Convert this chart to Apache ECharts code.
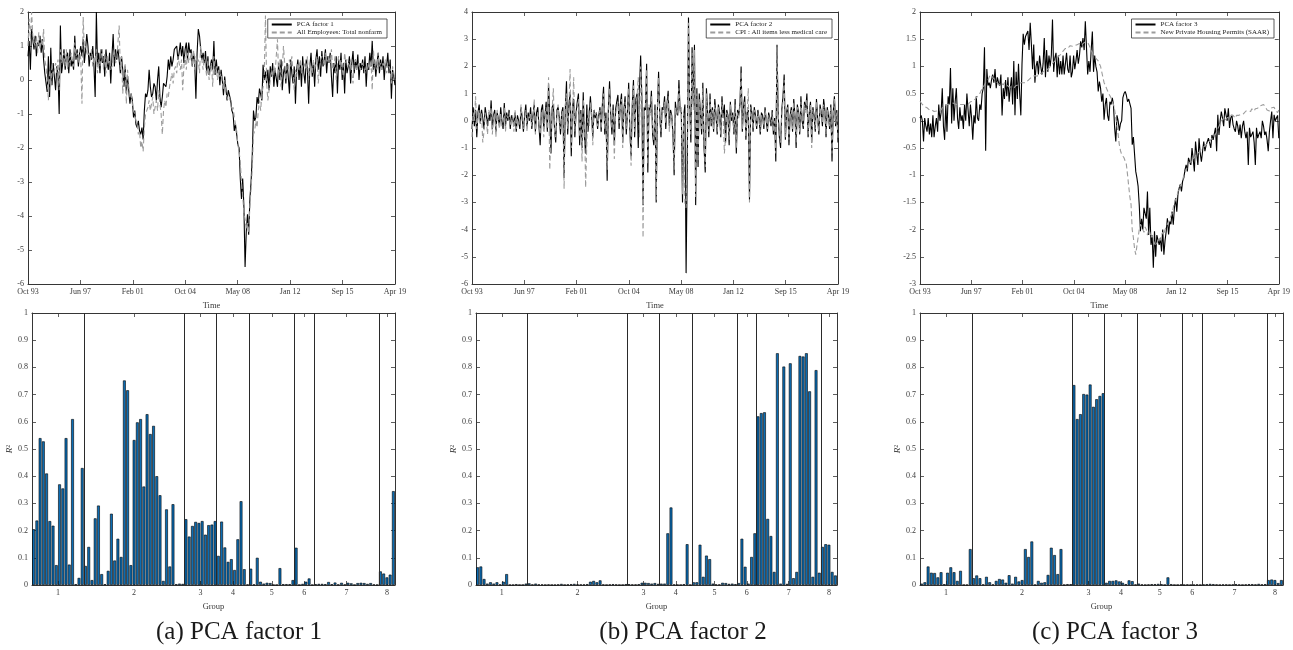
<!DOCTYPE html>
<html>
<head>
<meta charset="utf-8">
<title>PCA factors and R-squared by group</title>
<script src="https://cdn.jsdelivr.net/npm/echarts@6/dist/echarts.min.js"></script>
<style>
  html, body { margin: 0; padding: 0; background: #ffffff; }
  #chart { width: 1293px; height: 650px; }
</style>
</head>
<body>
<div id="chart"></div>
<script>
// ---------------------------------------------------------------------------
// Data: monthly standardized series, Oct 1993 .. Apr 2019 (307 months).
// Each line below is one calendar year (first line: Oct-Dec 1993).
// ---------------------------------------------------------------------------
const timeTickLabels = ['Oct 93', 'Jun 97', 'Feb 01', 'Oct 04', 'May 08', 'Jan 12', 'Sep 15', 'Apr 19'];

const factor1 = [
  0.7, 1.15, 0.3,
  1.5, 1.2, 0.9, 1.3, 0.7, 1.1, 1.0, 1.3, 0.8, 1.2, 0.6, 0.2,
  0.15, -0.35, 0.7, -0.5, 0.95, -0.15, 0.5, 0.1, -0.3, 0.4, 0.2, -1.0,
  1.6, 0.2, 0.5, 0.9, 0.3, 0.7, 0.8, 0.2, 0.9, 0.4, 0.6, 0.3,
  1.3, 0.6, 0.9, 0.4, 0.8, 1.0, 0.7, 1.2, 0.5, 0.9, 1.35, 1.0,
  0.4, 0.8, 0.6, 1.0, 0.4, -0.5, 2.0, 0.4, 0.8, 0.2, 0.9, 0.5,
  0.7, 0.1, 0.9, 0.5, 0.3, 0.8, -0.1, 0.7, 1.35, 0.4, 0.9, 0.6,
  0.9, 0.6, 0.2, 0.7, 0.3, -0.2, 0.4, -0.4, 0.1, -0.3, -0.7, -0.4,
  -0.6, -1.1, -0.9, -1.3, -1.4, -1.2, -1.5, -1.6, -1.4, -1.75, -0.9, -0.4,
  -0.5, -0.3, 0.3, -0.2, -0.5, -0.4, -0.1, -0.2, -0.6, 0.0, 0.4, -0.5,
  -0.8, -0.5, -0.1, -0.1, -0.2, 0.1, 0.6, 0.3, 0.7, 0.4, 0.6, 0.9,
  0.9, 1.0, 0.6, 0.8, 1.1, 0.7, 1.0, 0.5, 0.9, 1.1, 0.6, 1.1,
  0.8, 0.9, 0.4, 0.8, 0.5, -0.55, 0.8, 1.5, 1.3, 0.9, 0.6, 0.8,
  0.5, 0.85, 0.2, 0.7, 0.15, 0.4, 0.6, 0.3, 1.15, 0.15, 0.6, 0.2,
  0.4, -0.15, 0.3, 0.0, -0.45, 0.1, -0.25, -0.6, -0.3, -0.45, -0.6, -0.9,
  -1.0, -1.5, -1.3, -1.6, -1.9, -2.0, -2.9, -3.5, -2.9, -3.7, -5.5, -4.45,
  -3.95, -4.55, -3.5, -3.0, -2.2, -0.9, -1.2, -1.1, -0.5, -0.7, -0.25, -0.3,
  -0.6, 0.45, 0.0, 0.25, -0.1, 0.3, -0.3, 0.4, 0.1, 0.5, -0.2, 0.3,
  0.3, -0.2, 0.5, 0.0, 0.6, -0.3, 0.2, 0.4, -0.1, 0.5, 0.1, -0.4,
  0.6, 0.2, -0.1, 0.4, -0.7, 0.3, 0.6, 0.0, 0.5, -0.2, 0.7, 0.2,
  -0.1, 0.6, 0.3, -0.7, 0.4, 0.8, 0.1, 0.5, -0.2, 0.6, 0.9, 0.3,
  0.7, 0.1, 0.85, 0.4, 0.6, 0.9, 0.2, 0.7, 0.5, 0.8, 0.1, -0.5,
  0.5, 0.2, 0.7, -0.4, 0.6, 0.3, 0.8, 0.0, 0.5, -0.4, 0.6, 0.2,
  0.4, 0.7, -0.1, 0.5, 0.85, 0.2, 0.6, 0.3, 0.75, 0.0, 0.5, 0.3,
  0.6, 0.2, 0.7, -0.2, 0.5, 0.3, 0.8, 0.4, 1.15, 0.3, 0.6, 0.1,
  0.5, 0.8, 0.2, 0.6, 0.3, 0.7, 0.0, 0.5, 0.4, 0.8, 0.2, 0.6,
  -0.55, 0.3, 0.1, -0.15
];

const totalNonfarm = [
  1.0, 1.8, 1.2,
  2.0, 1.3, 1.1, 1.0, 1.3, 0.8, 1.4, 0.9, 1.2, 1.0, 1.5, 0.6,
  0.4, 0.0, -0.6, 0.3, -0.2, 0.5, 0.1, 0.3, 0.5, 0.2, 0.6, -0.3,
  0.9, 0.5, 0.6, 0.8, 0.4, 0.9, 0.3, 0.7, 0.5, 0.8, 0.6, 0.4,
  1.1, 0.7, 0.8, 0.5, 0.9, 0.6, -0.7, 1.85, 0.9, 1.0, 0.8, 0.7,
  0.8, 0.6, 0.9, 0.4, 0.7, 0.5, 0.9, 0.2, 0.6, 0.4, 0.7, 0.9,
  0.3, 0.8, 0.2, 0.7, 0.5, 0.6, 0.3, 0.4, 0.7, 0.9, 0.5, 0.6,
  1.1, 1.6, 0.3, 0.7, -0.4, 0.2, 0.5, -0.7, 0.3, -0.2, -0.5, -0.4,
  -0.7, -0.9, -1.0, -1.2, -1.3, -1.6, -1.5, -2.0, -1.8, -2.1, -1.4, -1.0,
  -1.0, -0.8, -0.6, -0.9, -0.7, -0.5, -1.0, -0.8, -0.6, -0.9, -0.3, -0.7,
  -1.0, -1.6, -0.9, -0.6, -0.8, -0.4, -0.5, -0.2, 0.0, 0.2, -0.1, 0.3,
  0.4, 0.2, 0.7, 0.5, 0.3, 0.6, -0.3, 0.4, 0.7, 0.3, 0.8, 0.5,
  0.6, 0.8, 0.4, 0.9, 0.3, 0.7, 0.5, 0.6, 0.2, 1.0, 0.6, 0.3,
  0.7, 0.4, 0.1, 0.6, 0.0, 0.3, 0.5, -0.2, 0.7, 0.2, 0.4, 0.0,
  0.3, 0.1, 0.2, -0.1, -0.3, 0.0, -0.4, -0.5, -0.6, -0.5, -0.7, -0.9,
  -0.8, -1.1, -1.3, -1.5, -1.9, -2.1, -2.4, -3.0, -3.4, -3.9, -4.1, -4.4,
  -4.2, -4.5, -3.7, -3.2, -2.6, -1.6, -1.5, -1.2, -1.4, -0.9, -0.6, -0.9,
  -0.4, -0.2, 0.2, 1.9, -0.1, -0.6, -0.3, 0.0, 0.3, 0.1, 0.4, 0.2,
  0.2, 1.2, 0.1, 0.6, -0.2, 0.3, 1.0, 0.5, 0.0, 0.4, 0.3, 0.6,
  0.4, 0.7, 0.2, -0.3, 0.3, 0.1, 0.5, 0.3, 0.6, 0.2, 0.4, 0.5,
  0.5, 0.3, 0.7, 0.0, 0.5, 0.4, 0.2, 0.6, 0.3, 0.5, 0.7, -0.1,
  0.3, 0.6, 0.7, 0.6, 0.4, 0.8, 0.6, 0.5, 0.7, 0.5, 0.9, 0.3,
  0.4, 0.7, 0.0, 0.5, 0.7, 0.4, 0.6, 0.3, 0.1, 0.8, 0.5, 0.6,
  0.5, 0.4, 0.6, 0.2, -0.1, 0.5, 0.6, 0.3, 0.4, 0.5, 0.3, 0.4,
  0.5, 0.4, 0.2, 0.4, 0.3, 0.5, 0.3, 0.6, -0.3, 0.9, 0.4, 0.5,
  0.3, 0.8, 0.4, 0.5, 0.3, 0.5, 0.4, 0.6, 0.2, 0.5, 0.4, 0.3,
  -0.1, 0.4, 0.2, 0.0
];

const factor2 = [
  -0.3, 0.5, -0.2,
  0.4, -0.6, 0.3, 0.6, -0.1, 0.4, 0.1, -0.3, 0.5, 0.2, -0.2, 0.3,
  0.0, 0.75, -0.3, 0.2, 0.4, -0.4, 0.3, 0.1, -0.2, 0.5, 0.0, -0.3,
  0.65, -0.2, 0.3, 0.0, 0.4, -0.3, 0.2, 0.1, -0.2, 0.3, -0.4, 0.2,
  0.0, -0.3, 0.5, 0.1, -0.4, 0.2, 0.6, -0.2, 0.3, 0.0, 0.5, -0.3,
  0.2, 0.6, -0.4, 0.3, 0.5, -0.2, -0.9, 0.4, 0.6, -0.3, 0.2, 0.7,
  -0.4, 1.35, 0.2, -1.2, 0.5, 0.6, -0.3, -0.8, 0.4, 0.5, 0.1, -0.5,
  0.3, 0.5, -2.1, 0.4, 1.45, -0.5, 0.6, 1.0, -1.3, 0.5, 0.8, -0.6,
  0.3, 0.7, 1.0, -0.9, 0.4, -1.0, 1.05, -0.6, -1.2, 0.6, -0.4, 0.3,
  0.9, 0.2, -0.6, 0.4, 0.1, 0.3, -0.3, 0.2, 0.5, -0.4, 0.6, 1.25,
  -0.5, 0.3, -2.2, 0.4, 1.45, 0.2, -0.5, 0.6, -0.9, 0.4, 0.7, 0.95,
  -0.3, 0.6, 1.0, -0.8, 0.4, 0.9, -0.5, 0.3, 1.4, -0.4, -1.3, 0.6,
  1.5, -0.6, 0.8, 1.0, -1.0, 1.2, 2.4, 0.9, -3.1, 0.5, 0.4, 2.1,
  -1.9, 0.5, 0.3, 1.1, -0.5, -0.9, 0.6, -3.0, 0.4, 1.8, 0.2, -0.6,
  0.5, 0.4, 0.9, -0.3, 0.6, 1.1, -0.2, 0.4, 0.2, -0.5, -2.0, 0.7,
  0.3, 0.2, 1.5, 0.4, 0.3, -3.0, 0.2, 0.6, -5.6, -1.5, 3.8, 0.5,
  -0.8, 2.7, 0.6, 2.8, -3.1, 1.2, -1.7, 1.0, 0.3, -0.5, 1.4, -1.0,
  -1.9, 1.2, 0.3, -0.6, 1.0, -0.2, 0.5, -0.4, 0.8, 0.2, -0.5, 0.6,
  0.3, -0.6, 0.9, 0.1, 0.6, -0.8, 0.4, 0.2, -0.9, 0.7, 0.0, 0.3,
  -0.5, 0.8, -1.2, 0.4, 0.2, 0.6, 2.0, -0.4, 0.5, 0.9, -0.7, 0.3,
  0.4, -2.9, 0.6, 0.3, -0.4, 0.5, 0.2, -0.3, 0.4, 0.1, -0.5, 0.3,
  0.2, -0.3, 0.5, 0.0, -0.4, 0.3, 0.1, -0.2, 0.4, -0.5, 0.1, -1.5,
  2.8, 0.2, -0.6, -1.0, 0.4, 0.9, 1.7, -0.7, 0.3, 0.6, -0.9, 0.2,
  0.5, -0.4, 0.8, 0.2, -1.0, 0.6, 0.3, -0.5, 0.9, 0.0, -0.3, 0.7,
  0.4, 1.0, -0.6, 0.3, 0.7, -0.8, 0.5, 0.2, -0.4, 0.8, 0.1, -0.5,
  0.6, 0.3, -0.2, 0.8, 0.4, -0.6, 0.5, 0.2, -0.3, 0.6, -1.5, 0.3,
  0.9, -0.2, 0.4, -0.8
];

const cpiLessMedical = [
  -0.6, 0.3, 0.0,
  0.9, -0.3, 0.2, 0.4, -0.1, 0.3, -0.8, -0.4, 0.3, 0.0, -0.5, 0.4,
  0.2, 0.5, -0.5, 0.1, 0.3, -0.6, 0.4, 0.0, -0.3, 0.3, -0.2, -0.1,
  0.5, -0.4, 0.2, 0.1, 0.3, -0.2, 0.0, 0.2, -0.4, 0.4, -0.3, 0.1,
  -0.2, -0.1, 0.6, 0.0, -0.3, 0.1, 0.4, -0.4, 0.2, 0.1, 0.3, -0.2,
  0.1, 0.8, -0.5, 0.2, 0.3, -0.1, -0.5, 0.3, 0.4, -0.6, 0.1, 0.5,
  -0.3, 1.6, -1.8, -0.5, 0.4, 1.2, -0.4, -0.6, 0.3, 0.6, -0.1, -0.3,
  0.2, 0.4, -2.5, 0.6, 1.0, -0.3, 0.5, 1.9, -1.0, 0.3, 1.6, -0.4,
  0.2, 0.5, 0.8, -0.6, 0.3, -1.5, 0.8, 0.3, -2.45, -0.8, 0.4, -0.2,
  0.7, 0.3, -0.9, 0.4, 0.2, 0.3, -0.2, 0.1, 0.4, -0.3, 0.5, 1.0,
  -0.3, 0.1, -1.8, 0.2, 1.2, 0.3, -0.3, 0.4, -1.4, 0.2, 0.5, 0.7,
  -0.1, 0.4, 0.8, -1.0, 0.3, 0.7, -0.3, 0.2, 1.2, -0.4, -1.65, 0.4,
  1.3, -0.4, 0.6, 0.9, 1.6, -0.6, 2.0, 0.5, -4.3, 0.3, 0.6, 1.9,
  -1.6, 0.6, 0.2, 0.9, -0.3, -0.7, 0.4, -2.9, 0.5, 1.6, 0.1, -0.4,
  0.4, 0.3, 0.7, -0.1, 0.5, 0.9, -0.4, 0.3, 0.1, -0.3, -1.8, 0.5,
  0.2, 0.4, 1.2, 0.3, 0.5, -2.7, 0.3, -3.0, -3.2, -0.5, 3.6, 0.3,
  -0.5, 2.5, 0.4, 2.6, -2.8, 1.0, -1.5, 0.8, 0.2, -0.3, 1.2, -0.8,
  -1.7, 1.0, 0.2, -0.4, 0.8, -0.1, 0.4, -0.3, 0.6, 0.3, -0.4, 0.5,
  0.2, -0.5, 0.7, 0.2, -1.2, -0.6, 0.3, 0.1, -0.7, 0.6, 0.1, 0.2,
  -0.4, 0.6, -1.0, 0.3, 0.1, 0.5, 1.8, -0.3, 0.4, 0.7, -0.6, 0.2,
  1.2, -3.0, 0.5, 0.2, -0.3, 0.4, 0.1, -0.2, 0.3, 0.0, -0.4, 0.2,
  0.1, -0.2, 0.4, 0.1, -0.3, 0.2, 0.0, -0.1, 0.3, -0.4, 0.0, -1.2,
  2.7, 0.3, -0.5, -0.8, 0.3, 0.7, 1.5, -0.6, 0.2, 0.5, -0.7, 0.1,
  0.4, -0.3, 0.7, 0.1, -0.8, 0.5, 0.2, -0.4, 0.7, 0.1, -0.2, 0.6,
  0.3, 0.8, -0.5, 0.2, 0.6, -1.0, 0.4, 0.1, -0.3, 0.7, 0.0, -0.4,
  0.5, 0.2, -0.1, 0.6, 0.3, -0.5, 0.4, 0.1, -0.2, 0.5, -1.2, 0.2,
  0.8, -0.1, 0.3, -0.7
];

const factor3 = [
  0.05, 0.1, 0.0,
  -0.38, 0.05, -0.1, -0.2, 0.05, -0.25, -0.05, -0.3, 0.1, -0.3, -0.1, 0.05,
  -0.2, 0.3, 0.0, 0.15, 0.6, -0.1, -0.35, 0.3, -0.2, 0.45, 0.3, 0.97,
  -0.05, 0.6, 0.0, 0.35, 0.6, 0.05, -0.15, 0.25, 0.0, 0.1, -0.15, 0.3,
  0.0, 0.5, 0.2, -0.1, 0.3, 0.05, -0.35, 0.1, -0.05, 0.45, 0.05, 0.0,
  0.3, 0.2, 0.5, 0.6, 1.35, -0.55, 0.95, 0.65, 0.7, 0.6, 0.75, 0.85,
  0.7, 0.95, 0.6, 0.8, 0.7, 0.65, 0.85, 0.1, 0.6, 0.4, 0.75, 0.45,
  0.8, 0.35, 0.6, 0.8, 0.3, 1.1, 0.1, 0.9, 0.4, 1.05, 0.5, 0.1,
  1.05, 1.6, 1.4, 1.55, 1.55, 1.65, 1.3, 1.8, 1.4, 0.95, 1.4, 0.7,
  1.0, 1.1, 0.85, 1.2, 1.0, 0.85, 1.05, 1.52, 0.8, 1.3, 0.9, 1.2,
  1.0, 1.2, 1.86, 0.9, 1.15, 1.25, 0.8, 1.2, 0.85, 1.1, 0.85, 1.2,
  0.85, 1.05, 1.25, 0.95, 0.88, 1.2, 0.8, 0.9, 1.2, 0.95, 1.1, 1.3,
  1.05, 1.2, 1.46, 1.35, 1.52, 1.3, 1.83, 1.35, 0.85, 1.1, 0.9, 1.3,
  1.64, 0.9, 1.2, 1.0, 0.9, 0.54, 0.72, 0.6, 0.35, 0.5, 0.02, 0.3,
  0.42, 0.1, 0.0, 0.35, 0.3, 0.42, 0.3, -0.13, -0.38, 0.1, 0.0, -0.18,
  -0.05, 0.0, 0.42, 0.5, 0.54, 0.47, 0.35, 0.4, 0.42, 0.23, -0.44, -0.3,
  -0.3, -0.93, -1.05, -1.2, -1.55, -2.03, -1.8, -2.0, -1.6, -1.7, -1.8, -1.3,
  -2.1, -1.6, -2.28, -2.1, -2.7, -2.03, -2.5, -2.1, -2.09, -2.28, -2.15, -2.4,
  -2.0, -2.46, -2.2, -2.03, -1.79, -2.09, -1.85, -1.9, -1.67, -1.91, -1.6, -1.42,
  -1.67, -1.35, -1.24, -1.17, -1.3, -1.11, -1.05, -0.9, -0.81, -0.93, -0.68, -0.75,
  -0.81, -0.5, -0.7, -0.93, -0.38, -0.6, -0.81, -0.32, -0.6, -0.75, -0.56, -0.38,
  -0.56, -0.45, -0.44, -0.32, -0.4, -0.5, -0.26, -0.35, -0.38, -0.13, -0.56, 0.11,
  -0.26, 0.0, 0.17, 0.05, -0.1, 0.23, 0.11, 0.0, 0.23, -0.13, 0.05, 0.11,
  -0.07, -0.15, -0.2, 0.0, -0.1, -0.26, -0.07, -0.32, -0.1, 0.0, -0.2, -0.32,
  -0.2, -0.81, -0.13, -0.3, -0.32, -0.2, -0.4, -0.81, -0.13, -0.32, -0.25, -0.2,
  -0.32, 0.0, -0.1, -0.26, -0.2, -0.35, -0.56, -0.2, 0.0, 0.17, -0.32, 0.11,
  0.0, 0.05, 0.1, -0.32
];

const housingPermits = [
  0.36, 0.33, 0.3,
  0.28, 0.26, 0.27, 0.24, 0.22, 0.2, 0.17, 0.2, 0.18, 0.17, 0.2, 0.18,
  0.17, 0.2, 0.22, 0.2, 0.24, 0.26, 0.25, 0.28, 0.3, 0.27, 0.3, 0.32,
  0.33, 0.3, 0.32, 0.35, 0.3, 0.28, 0.3, 0.27, 0.3, 0.32, 0.3, 0.33,
  0.3, 0.28, 0.3, 0.33, 0.35, 0.33, 0.36, 0.38, 0.4, 0.43, 0.45, 0.48,
  0.5, 0.55, 0.58, 0.62, 0.66, 0.7, 0.72, 0.75, 0.8, 0.85, 0.82, 0.8,
  0.78, 0.75, 0.72, 0.7, 0.66, 0.68, 0.7, 0.68, 0.66, 0.7, 0.68, 0.66,
  0.64, 0.62, 0.6, 0.62, 0.64, 0.6, 0.63, 0.65, 0.64, 0.66, 0.68, 0.7,
  0.72, 0.7, 0.68, 0.7, 0.72, 0.74, 0.76, 0.78, 0.8, 0.82, 0.85, 0.83,
  0.8, 0.82, 0.85, 0.87, 0.86, 0.88, 0.9, 0.92, 0.9, 0.93, 0.95, 0.97,
  1.0, 1.02, 1.05, 1.08, 1.1, 1.12, 1.15, 1.18, 1.2, 1.22, 1.25, 1.28,
  1.3, 1.33, 1.35, 1.33, 1.36, 1.38, 1.35, 1.37, 1.4, 1.38, 1.36, 1.4,
  1.38, 1.42, 1.4, 1.38, 1.42, 1.44, 1.45, 1.46, 1.44, 1.4, 1.35, 1.3,
  1.25, 1.2, 1.18, 1.15, 1.12, 1.1, 1.08, 1.0, 0.9, 0.8, 0.7, 0.66,
  0.6, 0.55, 0.5, 0.48, 0.42, 0.35, 0.3, 0.2, 0.05, -0.1, -0.25, -0.44,
  -0.55, -0.62, -0.65, -0.68, -0.7, -0.8, -0.99, -1.2, -1.4, -1.54, -2.0, -2.15,
  -2.35, -2.46, -2.3, -2.15, -2.0, -1.9, -1.95, -2.0, -2.05, -1.95, -2.0, -2.1,
  -2.0, -2.05, -2.15, -2.1, -2.2, -2.25, -2.3, -2.25, -2.2, -2.15, -2.2, -2.1,
  -2.05, -2.1, -2.0, -1.95, -1.9, -1.85, -1.8, -1.75, -1.7, -1.6, -1.5, -1.45,
  -1.4, -1.3, -1.25, -1.2, -1.15, -1.1, -1.0, -0.95, -0.9, -0.85, -0.8, -0.78,
  -0.75, -0.7, -0.72, -0.68, -0.65, -0.6, -0.62, -0.58, -0.55, -0.52, -0.5, -0.48,
  -0.45, -0.44, -0.42, -0.4, -0.38, -0.35, -0.33, -0.3, -0.28, -0.25, -0.2, -0.15,
  -0.1, -0.05, 0.0, 0.02, 0.05, 0.0, 0.03, 0.06, 0.08, 0.05, 0.1, 0.08,
  0.1, 0.08, 0.05, 0.1, 0.12, 0.1, 0.08, 0.12, 0.15, 0.13, 0.15, 0.18,
  0.15, 0.18, 0.2, 0.17, 0.22, 0.2, 0.18, 0.22, 0.25, 0.23, 0.27, 0.25,
  0.28, 0.26, 0.3, 0.27, 0.24, 0.2, 0.22, 0.18, 0.2, 0.24, 0.22, 0.25,
  0.2, 0.18, 0.15, 0.2
];

// R^2 of each of the 112 variables on one factor, ordered by group.
const groupSizes = [16, 31, 10, 10, 14, 6, 20, 5];
const groupLabels = ['1', '2', '3', '4', '5', '6', '7', '8'];

const r2Factor1 = [
  0.205, 0.237, 0.54, 0.528, 0.41, 0.235, 0.218, 0.073, 0.37, 0.355, 0.54, 0.075, 0.61, 0.003, 0.026, 0.43,
  0.07, 0.14, 0.018, 0.245, 0.292, 0.04, 0.003, 0.052, 0.262, 0.09, 0.17, 0.103, 0.752, 0.716, 0.073, 0.533,
  0.598, 0.61, 0.362, 0.628, 0.555, 0.585, 0.4, 0.33, 0.015, 0.278, 0.068, 0.297, 0.003, 0.005, 0.004,
  0.242, 0.178, 0.217, 0.232, 0.228, 0.235, 0.185, 0.22, 0.222, 0.235,
  0.107, 0.233, 0.138, 0.085, 0.095, 0.055, 0.168, 0.308, 0.058, 0.002,
  0.06, 0.002, 0.1, 0.012, 0.005, 0.008, 0.007, 0.001, 0.001, 0.062, 0.003, 0.003, 0.003, 0.018,
  0.137, 0.001, 0.004, 0.012, 0.024, 0.001,
  0.003, 0.004, 0.004, 0.003, 0.011, 0.003, 0.009, 0.002, 0.008, 0.002, 0.008, 0.006, 0.001, 0.007, 0.008, 0.007, 0.004, 0.007, 0.002, 0.001,
  0.05, 0.042, 0.028, 0.038, 0.345
];

const r2Factor2 = [
  0.065, 0.068, 0.022, 0.005, 0.01, 0.005, 0.01, 0.002, 0.012, 0.04, 0.001, 0.001, 0.003, 0.001, 0.001, 0.005,
  0.006, 0.002, 0.005, 0.002, 0.002, 0.001, 0.002, 0.001, 0.001, 0.002, 0.004, 0.001, 0.002, 0.003, 0.004, 0.002,
  0.002, 0.002, 0.003, 0.012, 0.015, 0.01, 0.017, 0.002, 0.001, 0.002, 0.003, 0.002, 0.001, 0.001, 0.003,
  0.003, 0.002, 0.002, 0.003, 0.008, 0.008, 0.007, 0.005, 0.007, 0.004,
  0.005, 0.005, 0.19, 0.285, 0.002, 0.001, 0.001, 0.003, 0.15, 0.001,
  0.01, 0.01, 0.148, 0.03, 0.108, 0.095, 0.005, 0.002, 0.002, 0.008, 0.007, 0.004, 0.005, 0.003,
  0.007, 0.17, 0.067, 0.005, 0.103, 0.19,
  0.62, 0.632, 0.635, 0.243, 0.18, 0.048, 0.852, 0.005, 0.803, 0.004, 0.815, 0.025, 0.048, 0.842, 0.84, 0.852, 0.712, 0.03, 0.79, 0.045,
  0.14, 0.15, 0.148, 0.048, 0.035
];

const r2Factor3 = [
  0.005, 0.01, 0.068, 0.045, 0.044, 0.028, 0.047, 0.003, 0.045, 0.065, 0.047, 0.015, 0.052, 0.001, 0.001, 0.132,
  0.025, 0.035, 0.025, 0.002, 0.03, 0.01, 0.002, 0.015, 0.022, 0.02, 0.008, 0.036, 0.005, 0.03, 0.013, 0.018,
  0.132, 0.103, 0.16, 0.001, 0.015, 0.008, 0.01, 0.037, 0.137, 0.11, 0.04, 0.132, 0.001, 0.003, 0.003,
  0.735, 0.61, 0.628, 0.702, 0.7, 0.737, 0.655, 0.683, 0.695, 0.705,
  0.008, 0.015, 0.015, 0.017, 0.013, 0.008, 0.003, 0.017, 0.014, 0.002,
  0.005, 0.002, 0.001, 0.002, 0.003, 0.003, 0.004, 0.003, 0.001, 0.028, 0.003, 0.001, 0.001, 0.002,
  0.001, 0.002, 0.001, 0.001, 0.002, 0.001,
  0.002, 0.003, 0.004, 0.003, 0.002, 0.001, 0.002, 0.002, 0.001, 0.002, 0.003, 0.002, 0.001, 0.002, 0.003, 0.003, 0.002, 0.004, 0.002, 0.003,
  0.018, 0.02, 0.018, 0.007, 0.018
];

// ---------------------------------------------------------------------------
// Sanity checks on series lengths
// ---------------------------------------------------------------------------
const nVars = groupSizes.reduce((a, b) => a + b, 0);
[factor1, totalNonfarm, factor2, cpiLessMedical, factor3, housingPermits].forEach((s, k) => {
  if (s.length !== factor1.length) throw new Error('time series ' + k + ' has ' + s.length + ' points, expected ' + factor1.length);
});
[r2Factor1, r2Factor2, r2Factor3].forEach((s, k) => {
  if (s.length !== nVars) throw new Error('R2 set ' + k + ' has ' + s.length + ' bars, expected ' + nVars);
});

// ---------------------------------------------------------------------------
// Derived axis helpers
// ---------------------------------------------------------------------------
const lastMonth = factor1.length - 1;
const timeTickPos = timeTickLabels.map((_, i) => lastMonth * i / (timeTickLabels.length - 1));
const timeLabelAt = v => timeTickLabels[Math.round(v * (timeTickLabels.length - 1) / lastMonth)] || '';

const groupEdges = [];      // boundaries between groups (between bars)
const groupCenters = [];    // label position for each group
let cum = 0;
groupSizes.forEach((n, i) => {
  groupCenters.push(cum + (n + 1) / 2);
  cum += n;
  if (i < groupSizes.length - 1) groupEdges.push(cum + 0.5);
});
const groupLabelAt = v => {
  let best = 0;
  groupCenters.forEach((c, i) => { if (Math.abs(c - v) < Math.abs(groupCenters[best] - v)) best = i; });
  return groupLabels[best];
};

// ---------------------------------------------------------------------------
// Styling
// ---------------------------------------------------------------------------
const SERIF = '"Liberation Serif", "DejaVu Serif", serif';
const FRAME = '#363636';
const TEXT = '#3a3a3a';

const grids = [
  { left: 28,  top: 12,  width: 367, height: 272 },
  { left: 472, top: 12,  width: 366, height: 272 },
  { left: 920, top: 12,  width: 362, height: 272 },
  { left: 32,  top: 313, width: 363, height: 272 },
  { left: 476, top: 313, width: 361, height: 272 },
  { left: 920, top: 313, width: 363, height: 272 }
];

const xAxes = [];
const yAxes = [];

function addXAxes(g, min, max, ticks, fmt, name) {
  const line = { show: true, onZero: false, lineStyle: { color: FRAME, width: 1 } };
  const tick = { show: true, inside: true, length: 4, customValues: ticks, lineStyle: { color: FRAME, width: 0.8 } };
  xAxes.push({
    type: 'value', gridIndex: g, min: min, max: max, position: 'bottom',
    splitLine: { show: false }, axisLine: line, axisTick: tick,
    axisLabel: { customValues: ticks, formatter: fmt, fontFamily: SERIF, fontSize: 8, color: TEXT, margin: 4 },
    name: name, nameLocation: 'middle', nameGap: 17,
    nameTextStyle: { fontFamily: SERIF, fontSize: 8.5, color: TEXT }
  });
  xAxes.push({
    type: 'value', gridIndex: g, min: min, max: max, position: 'top',
    splitLine: { show: false }, axisLine: line, axisTick: tick, axisLabel: { show: false }
  });
}

function addYAxes(g, min, max, interval, name) {
  const line = { show: true, onZero: false, lineStyle: { color: FRAME, width: 1 } };
  const tick = { show: true, inside: true, length: 4, lineStyle: { color: FRAME, width: 0.8 } };
  const left = {
    type: 'value', gridIndex: g, min: min, max: max, interval: interval, position: 'left',
    splitLine: { show: false }, axisLine: line, axisTick: tick,
    axisLabel: { fontFamily: SERIF, fontSize: 8, color: TEXT, margin: 4 }
  };
  if (name) {
    Object.assign(left, {
      name: '{r|R}{s|2}', nameLocation: 'middle', nameGap: 18, nameRotate: 90,
      nameTextStyle: {
        rich: {
          r: { fontFamily: SERIF, fontStyle: 'italic', fontSize: 9, color: TEXT },
          s: { fontFamily: SERIF, fontSize: 6, color: TEXT, verticalAlign: 'top' }
        }
      }
    });
  }
  yAxes.push(left);
  yAxes.push({
    type: 'value', gridIndex: g, min: min, max: max, interval: interval, position: 'right',
    splitLine: { show: false }, axisLine: line, axisTick: tick, axisLabel: { show: false }
  });
}

// Top row: time series
addXAxes(0, 0, lastMonth, timeTickPos, timeLabelAt, 'Time'); addYAxes(0, -6, 2, 1);
addXAxes(1, 0, lastMonth, timeTickPos, timeLabelAt, 'Time'); addYAxes(1, -6, 4, 1);
addXAxes(2, 0, lastMonth, timeTickPos, timeLabelAt, 'Time'); addYAxes(2, -3, 2, 0.5);
// Bottom row: R^2 by variable
for (let g = 3; g < 6; g++) {
  addXAxes(g, 0.5, nVars + 0.5, groupCenters, groupLabelAt, 'Group');
  addYAxes(g, 0, 1, 0.1, true);
}

const toPoints = arr => arr.map((v, i) => [i, v]);
const toBars = arr => arr.map((v, i) => [i + 1, v]);

function factorLine(g, name, values) {
  return {
    type: 'line', name: name, xAxisIndex: 2 * g, yAxisIndex: 2 * g,
    data: toPoints(values), showSymbol: false, symbol: 'none',
    lineStyle: { color: '#000000', width: 1.1 }, itemStyle: { color: '#000000' },
    z: 2
  };
}
function seriesLine(g, name, values) {
  return {
    type: 'line', name: name, xAxisIndex: 2 * g, yAxisIndex: 2 * g,
    data: toPoints(values), showSymbol: false, symbol: 'none',
    lineStyle: { color: '#9c9c9c', width: 1.1, type: [5, 3] }, itemStyle: { color: '#9c9c9c' },
    z: 3
  };
}
function r2Bars(g, values) {
  return {
    type: 'bar', name: 'R2 ' + g, xAxisIndex: 2 * g, yAxisIndex: 2 * g,
    data: toBars(values), barWidth: 2.8,
    itemStyle: { color: '#0b6db4', borderColor: '#000000', borderWidth: 0.6 },
    markLine: {
      silent: true, symbol: ['none', 'none'], label: { show: false },
      lineStyle: { color: '#2a2a2a', width: 1, type: 'solid' },
      data: groupEdges.map(x => ({ xAxis: x }))
    }
  };
}

// Legend boxes: line samples only (the marker is made invisible)
const legendBase = {
  orient: 'vertical', top: 19, selectedMode: false,
  itemWidth: 20, itemHeight: 6, itemGap: 1, padding: [2, 5, 2, 3],
  borderColor: '#333333', borderWidth: 0.8, backgroundColor: '#ffffff',
  itemStyle: { opacity: 0 },
  textStyle: { fontFamily: SERIF, fontSize: 7, color: '#222222' }
};

const captions = [
  { x: 239, text: '(a) PCA factor 1' },
  { x: 683, text: '(b) PCA factor 2' },
  { x: 1115, text: '(c) PCA factor 3' }
];

const option = {
  animation: false,
  backgroundColor: '#ffffff',
  grid: grids,
  xAxis: xAxes,
  yAxis: yAxes,
  legend: [
    Object.assign({}, legendBase, { right: 906, data: ['PCA factor 1', 'All Employees: Total nonfarm'] }),
    Object.assign({}, legendBase, { right: 461, data: ['PCA factor 2', 'CPI : All items less medical care'] }),
    Object.assign({}, legendBase, { right: 19, data: ['PCA factor 3', 'New Private Housing Permits (SAAR)'] })
  ],
  series: [
    factorLine(0, 'PCA factor 1', factor1),
    seriesLine(0, 'All Employees: Total nonfarm', totalNonfarm),
    factorLine(1, 'PCA factor 2', factor2),
    seriesLine(1, 'CPI : All items less medical care', cpiLessMedical),
    factorLine(2, 'PCA factor 3', factor3),
    seriesLine(2, 'New Private Housing Permits (SAAR)', housingPermits),
    r2Bars(3, r2Factor1),
    r2Bars(4, r2Factor2),
    r2Bars(5, r2Factor3)
  ],
  graphic: captions.map(c => ({
    type: 'text', x: c.x, y: 632,
    style: {
      text: c.text, fill: '#1a1a1a',
      font: '25px ' + SERIF,
      textAlign: 'center', textVerticalAlign: 'middle',
      align: 'center', verticalAlign: 'middle'
    }
  }))
};

const chart = echarts.init(document.getElementById('chart'), null, { renderer: 'canvas' });
chart.setOption(option);
</script>
</body>
</html>
